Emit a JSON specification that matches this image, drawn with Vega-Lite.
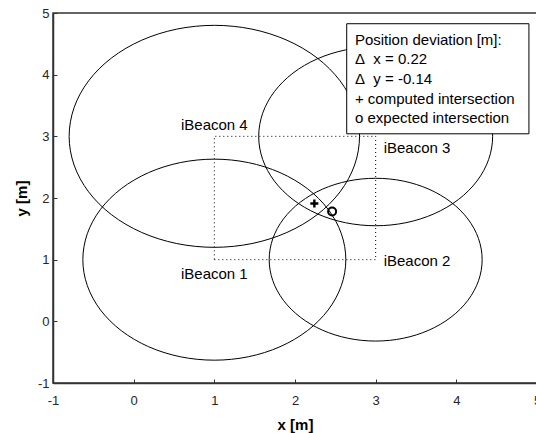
{
  "$schema": "https://vega.github.io/schema/vega-lite/v6.json",
  "width": 484,
  "height": 370,
  "autosize": {"type": "none"},
  "padding": {"left": 53, "top": 13, "right": 0, "bottom": 50},
  "background": "white",
  "config": {
    "font": "Liberation Sans",
    "view": {"stroke": "#333333", "strokeWidth": 1.5},
    "axis": {
      "grid": false,
      "tickSize": -4,
      "tickColor": "#333333",
      "domainColor": "#333333",
      "domainWidth": 1.5,
      "labelColor": "#262626",
      "labelFontSize": 13,
      "labelFlush": false,
      "labelOverlap": false,
      "labelExpr": "datum.value < 0 ? '-' + abs(datum.value) : '' + datum.value",
      "titleFontSize": 15,
      "titleFontWeight": "bold",
      "titleColor": "#000000"
    }
  },
  "datasets": {
    "circles": [
      {"c":1,"i":0,"x":2.63,"y":1},{"c":1,"i":1,"x":2.5744,"y":1.4218},{"c":1,"i":2,"x":2.4116,"y":1.815},{"c":1,"i":3,"x":2.1526,"y":2.1526},{"c":1,"i":4,"x":1.815,"y":2.4116},{"c":1,"i":5,"x":1.4218,"y":2.5744},{"c":1,"i":6,"x":1,"y":2.63},{"c":1,"i":7,"x":0.5782,"y":2.5744},{"c":1,"i":8,"x":0.185,"y":2.4116},{"c":1,"i":9,"x":-0.1526,"y":2.1526},{"c":1,"i":10,"x":-0.4116,"y":1.815},{"c":1,"i":11,"x":-0.5744,"y":1.4218},{"c":1,"i":12,"x":-0.63,"y":1},{"c":1,"i":13,"x":-0.5744,"y":0.5782},{"c":1,"i":14,"x":-0.4116,"y":0.185},{"c":1,"i":15,"x":-0.1526,"y":-0.1526},{"c":1,"i":16,"x":0.185,"y":-0.4116},{"c":1,"i":17,"x":0.5782,"y":-0.5744},{"c":1,"i":18,"x":1,"y":-0.63},{"c":1,"i":19,"x":1.4218,"y":-0.5744},{"c":1,"i":20,"x":1.815,"y":-0.4116},{"c":1,"i":21,"x":2.1526,"y":-0.1526},{"c":1,"i":22,"x":2.4116,"y":0.185},{"c":1,"i":23,"x":2.5744,"y":0.5782},
      {"c":2,"i":0,"x":4.32,"y":1},{"c":2,"i":1,"x":4.275,"y":1.3416},{"c":2,"i":2,"x":4.1431,"y":1.66},{"c":2,"i":3,"x":3.9334,"y":1.9334},{"c":2,"i":4,"x":3.66,"y":2.1431},{"c":2,"i":5,"x":3.3416,"y":2.275},{"c":2,"i":6,"x":3,"y":2.32},{"c":2,"i":7,"x":2.6584,"y":2.275},{"c":2,"i":8,"x":2.34,"y":2.1431},{"c":2,"i":9,"x":2.0666,"y":1.9334},{"c":2,"i":10,"x":1.8569,"y":1.66},{"c":2,"i":11,"x":1.725,"y":1.3416},{"c":2,"i":12,"x":1.68,"y":1},{"c":2,"i":13,"x":1.725,"y":0.6584},{"c":2,"i":14,"x":1.8569,"y":0.34},{"c":2,"i":15,"x":2.0666,"y":0.0666},{"c":2,"i":16,"x":2.34,"y":-0.1431},{"c":2,"i":17,"x":2.6584,"y":-0.275},{"c":2,"i":18,"x":3,"y":-0.32},{"c":2,"i":19,"x":3.3416,"y":-0.275},{"c":2,"i":20,"x":3.66,"y":-0.1431},{"c":2,"i":21,"x":3.9334,"y":0.0666},{"c":2,"i":22,"x":4.1431,"y":0.34},{"c":2,"i":23,"x":4.275,"y":0.6584},
      {"c":3,"i":0,"x":4.45,"y":3},{"c":3,"i":1,"x":4.4006,"y":3.3753},{"c":3,"i":2,"x":4.2557,"y":3.725},{"c":3,"i":3,"x":4.0253,"y":4.0253},{"c":3,"i":4,"x":3.725,"y":4.2557},{"c":3,"i":5,"x":3.3753,"y":4.4006},{"c":3,"i":6,"x":3,"y":4.45},{"c":3,"i":7,"x":2.6247,"y":4.4006},{"c":3,"i":8,"x":2.275,"y":4.2557},{"c":3,"i":9,"x":1.9747,"y":4.0253},{"c":3,"i":10,"x":1.7443,"y":3.725},{"c":3,"i":11,"x":1.5994,"y":3.3753},{"c":3,"i":12,"x":1.55,"y":3},{"c":3,"i":13,"x":1.5994,"y":2.6247},{"c":3,"i":14,"x":1.7443,"y":2.275},{"c":3,"i":15,"x":1.9747,"y":1.9747},{"c":3,"i":16,"x":2.275,"y":1.7443},{"c":3,"i":17,"x":2.6247,"y":1.5994},{"c":3,"i":18,"x":3,"y":1.55},{"c":3,"i":19,"x":3.3753,"y":1.5994},{"c":3,"i":20,"x":3.725,"y":1.7443},{"c":3,"i":21,"x":4.0253,"y":1.9747},{"c":3,"i":22,"x":4.2557,"y":2.275},{"c":3,"i":23,"x":4.4006,"y":2.6247},
      {"c":4,"i":0,"x":2.8,"y":3},{"c":4,"i":1,"x":2.7386,"y":3.4658},{"c":4,"i":2,"x":2.5588,"y":3.9},{"c":4,"i":3,"x":2.2728,"y":4.2728},{"c":4,"i":4,"x":1.9,"y":4.5588},{"c":4,"i":5,"x":1.4658,"y":4.7386},{"c":4,"i":6,"x":1,"y":4.8},{"c":4,"i":7,"x":0.5342,"y":4.7386},{"c":4,"i":8,"x":0.1,"y":4.5588},{"c":4,"i":9,"x":-0.2728,"y":4.2728},{"c":4,"i":10,"x":-0.5588,"y":3.9},{"c":4,"i":11,"x":-0.7386,"y":3.4658},{"c":4,"i":12,"x":-0.8,"y":3},{"c":4,"i":13,"x":-0.7386,"y":2.5342},{"c":4,"i":14,"x":-0.5588,"y":2.1},{"c":4,"i":15,"x":-0.2728,"y":1.7272},{"c":4,"i":16,"x":0.1,"y":1.4412},{"c":4,"i":17,"x":0.5342,"y":1.2614},{"c":4,"i":18,"x":1,"y":1.2},{"c":4,"i":19,"x":1.4658,"y":1.2614},{"c":4,"i":20,"x":1.9,"y":1.4412},{"c":4,"i":21,"x":2.2728,"y":1.7272},{"c":4,"i":22,"x":2.5588,"y":2.1},{"c":4,"i":23,"x":2.7386,"y":2.5342}
    ],
    "square": [
      {"i":0,"x":1,"y":1},{"i":1,"x":3,"y":1},{"i":2,"x":3,"y":3},{"i":3,"x":1,"y":3},{"i":4,"x":1,"y":1}
    ],
    "beacons": [
      {"name":"iBeacon 1","x":1,"y":1},
      {"name":"iBeacon 2","x":3,"y":1},
      {"name":"iBeacon 3","x":3,"y":3},
      {"name":"iBeacon 4","x":1,"y":3}
    ],
    "computed": [{"x":2.24,"y":1.91}],
    "expected": [{"x":2.46,"y":1.78}],
    "box": [{"x":2.641,"x2":4.9,"y":3.041,"y2":4.826}],
    "boxtext": [{"x":2.743,"y":4.683,"text":"Position deviation [m]:\nΔ\u00a0 x = 0.22\nΔ\u00a0 y = -0.14\n+ computed intersection\no expected intersection"}]
  },
  "encoding": {
    "x": {"field":"x","type":"quantitative","scale":{"domain":[-1,5],"nice":false,"zero":false},"axis":{"values":[-1,0,1,2,3,4,5],"title":"x [m]","labelPadding":15,"titlePadding":10}},
    "y": {"field":"y","type":"quantitative","scale":{"domain":[-1,5],"nice":false,"zero":false},"axis":{"values":[-1,0,1,2,3,4,5],"title":"y [m]","labelPadding":8,"titlePadding":8}}
  },
  "layer": [
    {"data":{"name":"circles"},"mark":{"type":"line","interpolate":"cardinal-closed","color":"black","strokeWidth":1},"encoding":{"detail":{"field":"c"},"order":{"field":"i","type":"quantitative"}}},
    {"data":{"name":"square"},"mark":{"type":"line","color":"black","strokeWidth":1,"strokeDash":[1,3]},"encoding":{"order":{"field":"i","type":"quantitative"}}},
    {"data":{"name":"computed"},"mark":{"type":"point","shape":"M-1,-0.3H-0.3V-1H0.3V-0.3H1V0.3H0.3V1H-0.3V0.3H-1Z","filled":true,"color":"black","opacity":1,"size":64}},
    {"data":{"name":"expected"},"mark":{"type":"point","shape":"circle","filled":false,"color":"black","opacity":1,"strokeWidth":2,"size":64}},
    {"data":{"name":"beacons"},"transform":[{"filter":"datum.name === 'iBeacon 1'"}],"mark":{"type":"text","align":"center","baseline":"middle","dy":14,"fontSize":15,"color":"black"},"encoding":{"text":{"field":"name"}}},
    {"data":{"name":"beacons"},"transform":[{"filter":"datum.name === 'iBeacon 4'"}],"mark":{"type":"text","align":"center","baseline":"middle","dy":-11,"fontSize":15,"color":"black"},"encoding":{"text":{"field":"name"}}},
    {"data":{"name":"beacons"},"transform":[{"filter":"datum.name === 'iBeacon 3'"}],"mark":{"type":"text","align":"left","baseline":"middle","dx":8,"dy":12,"fontSize":15,"color":"black"},"encoding":{"text":{"field":"name"}}},
    {"data":{"name":"beacons"},"transform":[{"filter":"datum.name === 'iBeacon 2'"}],"mark":{"type":"text","align":"left","baseline":"middle","dx":8,"dy":1,"fontSize":15,"color":"black"},"encoding":{"text":{"field":"name"}}},
    {"data":{"name":"box"},"mark":{"type":"rect","fill":"white","stroke":"black","strokeWidth":1},"encoding":{"x2":{"field":"x2"},"y2":{"field":"y2"}}},
    {"data":{"name":"boxtext"},"mark":{"type":"text","align":"left","baseline":"top","lineBreak":"\n","lineHeight":19.7,"fontSize":15,"color":"black"},"encoding":{"text":{"field":"text"}}}
  ]
}
